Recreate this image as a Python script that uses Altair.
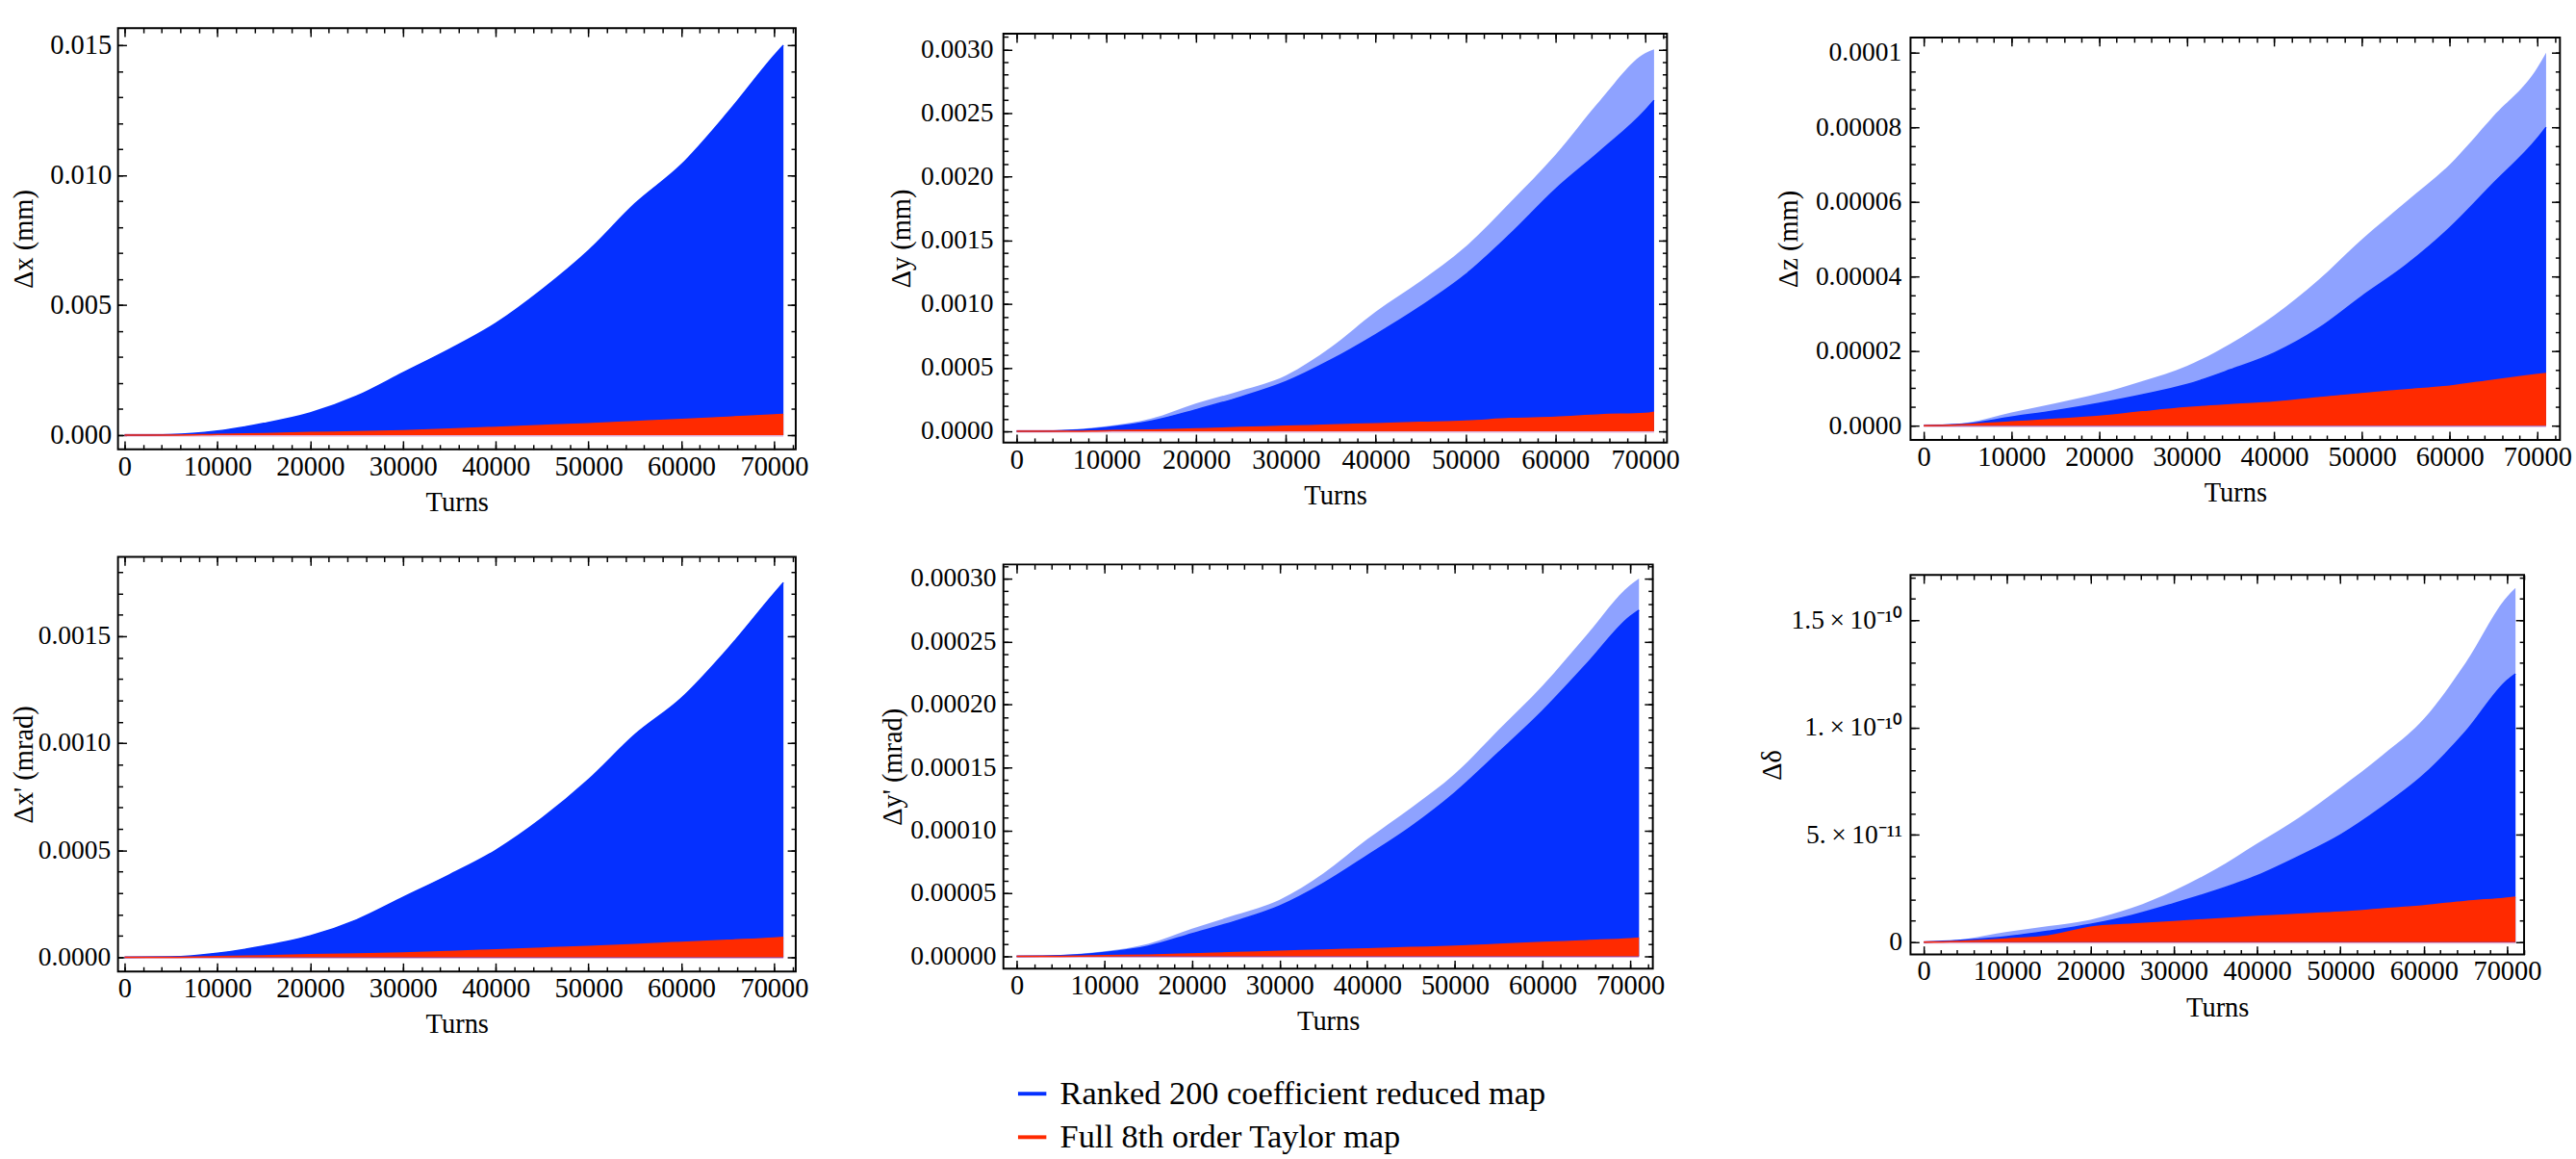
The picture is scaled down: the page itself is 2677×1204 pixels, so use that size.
import altair as alt
import pandas as pd

# ---------------- data ----------------
turns = [0, 5000, 10000, 15000, 20000, 25000, 30000, 35000, 40000, 45000,
         50000, 55000, 60000, 65000, 70000, 71000]

# Δx (mm)
dx_fringe = [0, 0.00002, 0.00016, 0.00045, 0.00085, 0.0015, 0.0024, 0.0033, 0.0043, 0.0056,
             0.0071, 0.0089, 0.0104, 0.0124, 0.0146, 0.0150]
dx_core = [0, 0.00002, 0.00016, 0.00045, 0.00085, 0.0015, 0.0024, 0.0033, 0.0043, 0.0056,
           0.0071, 0.0089, 0.0104, 0.0124, 0.0146, 0.0150]
dx_red = [0, 0, 0.00003, 0.00006, 0.0001, 0.00013, 0.00017, 0.00023, 0.0003, 0.00037,
          0.00044, 0.00052, 0.0006, 0.00069, 0.00078, 0.0008]

# Δy (mm)
dy_fringe = [0, 0.00001, 0.00004, 0.0001, 0.00022, 0.00032, 0.00044, 0.00066, 0.00094, 0.00118,
             0.00145, 0.0018, 0.00217, 0.0026, 0.00297, 0.0030]
dy_core = [0, 0.000005, 0.00003, 0.00008, 0.00017, 0.00027, 0.00039, 0.00056, 0.00076, 0.00098,
           0.00123, 0.00155, 0.0019, 0.0022, 0.00252, 0.0026]
dy_red = [0, 0, 0.000005, 0.00001, 0.00002, 0.00003, 0.00004, 0.00005, 0.00006, 0.00007,
          0.00008, 0.0001, 0.00011, 0.00013, 0.00014, 0.00015]

# Δz (mm)
dz_fringe = [0, 0.0000008, 0.0000035, 0.000006, 0.0000086, 0.000012, 0.000016, 0.000022, 0.0000296,
             0.000039, 0.00005, 0.00006, 0.00007, 0.000083, 0.000096, 0.0001]
dz_core = [0, 0.0000005, 0.0000023, 0.000004, 0.000006, 0.0000083, 0.000011, 0.000015, 0.0000195,
           0.000026, 0.0000347, 0.000043, 0.000053, 0.000065, 0.000077, 0.00008]
dz_red = [0, 0.0000003, 0.000001, 0.0000017, 0.0000025, 0.0000037, 0.0000048, 0.0000056, 0.0000063,
          0.0000075, 0.0000086, 0.0000096, 0.0000106, 0.0000122, 0.0000137, 0.000014]

# Δx' (mrad)
dxp_fringe = [0, 0.000002, 0.000019, 0.000053, 0.0001, 0.000175, 0.00028, 0.000385, 0.0005, 0.00065,
              0.00083, 0.00104, 0.00121, 0.00144, 0.0017, 0.00175]
dxp_core = [0, 0.000002, 0.000019, 0.000053, 0.0001, 0.000175, 0.00028, 0.000385, 0.0005, 0.00065,
            0.00083, 0.00104, 0.00121, 0.00144, 0.0017, 0.00175]
dxp_red = [0, 0, 0.000003, 0.000007, 0.000012, 0.000016, 0.00002, 0.000027, 0.000035, 0.000043,
           0.000051, 0.00006, 0.00007, 0.00008, 0.00009, 0.000093]

# Δy' (mrad)
dyp_fringe = [0, 0.000001, 0.000004, 0.00001, 0.000022, 0.000033, 0.000045, 0.000066, 0.000093,
              0.000118, 0.000145, 0.00018, 0.000215, 0.000255, 0.000295, 0.0003]
dyp_core = [0, 0.0000005, 0.000003, 0.000008, 0.000018, 0.000028, 0.00004, 0.000058, 0.00008,
            0.000103, 0.00013, 0.000162, 0.000195, 0.000232, 0.00027, 0.000275]
dyp_red = [0, 0, 0.0000005, 0.000001, 0.000002, 0.000003, 0.000004, 0.000005, 0.000006,
           0.000007, 0.000008, 0.0000095, 0.000011, 0.0000125, 0.000014, 0.0000145]

# Δδ
dd_fringe = [0, 1.5e-12, 4.8e-12, 7.5e-12, 1.05e-11, 1.6e-11, 2.4e-11, 3.4e-11, 4.6e-11, 5.8e-11,
             7.2e-11, 8.7e-11, 1.04e-10, 1.3e-10, 1.61e-10, 1.65e-10]
dd_core = [0, 1e-12, 2.6e-12, 5.2e-12, 8.3e-12, 1.25e-11, 1.8e-11, 2.4e-11, 3.1e-11, 4e-11,
           5e-11, 6.3e-11, 7.8e-11, 9.8e-11, 1.22e-10, 1.25e-10]
dd_red = [0, 5e-13, 1.5e-12, 3e-12, 7e-12, 8.4e-12, 9.6e-12, 1.08e-11, 1.2e-11, 1.3e-11,
          1.4e-11, 1.55e-11, 1.7e-11, 1.9e-11, 2.06e-11, 2.1e-11]

x_major = [0, 10000, 20000, 30000, 40000, 50000, 60000, 70000]
x_minor = [i * 2000 for i in range(37)]

LEG_BLUE = "Ranked 200 coefficient reduced map"
LEG_RED = "Full 8th order Taylor map"

# ---------------- styles ----------------
BLUE = "#0530FF"
RED = "#FF2A00"
PINK = "#DDB0D8"
FONT = "Liberation Serif, Times New Roman, serif"
MAJ = 9
MIN = 5


def tick_axis(orient, values, size, extra=0):
    return alt.Axis(orient=orient, values=values, tickSize=size, offset=-(size + extra),
                    domain=False, grid=False, labels=False, title=None,
                    tickColor="black", tickWidth=1.5)


def panel(fringe, core, red, cfg):
    n = len(turns)
    off = cfg["off"]
    df = pd.DataFrame({"turns": turns, "fringe": fringe, "core": core,
                       "red": red, "zero": [0] * n})
    edge = pd.DataFrame({"turns": turns + turns, "val": core + red,
                         "series": [LEG_BLUE] * n + [LEG_RED] * n})
    frame = pd.DataFrame({"x0": [cfg["xdom"][0]], "x1": [cfg["xdom"][1]],
                          "y0": [cfg["ydom"][0]], "y1": [cfg["ydom"][1]]})
    xs = alt.Scale(domain=cfg["xdom"], nice=False, zero=False)
    ys = alt.Scale(domain=cfg["ydom"], nice=False, zero=False, range=[cfg["h"], off])

    x_lab = alt.Axis(orient="bottom", values=x_major, format="d", tickSize=MAJ, offset=-MAJ,
                     domain=False, grid=False, tickColor="black", tickWidth=1.5,
                     labelFontSize=29, labelPadding=4, labelFlush=False, labelOverlap=False,
                     title="Turns", titleFontSize=29, titlePadding=0,
                     minExtent=51, maxExtent=51)
    ykw = dict(orient="left", values=cfg["ymaj"], tickSize=MAJ, offset=-MAJ,
               domain=False, grid=False, tickColor="black", tickWidth=1.5,
               labelFontSize=cfg["yls"], labelPadding=cfg["ylp"], labelFlush=False,
               labelOverlap=False, title=cfg["title"], titleFontSize=29, titlePadding=0,
               minExtent=cfg["yext"], maxExtent=cfg["yext"])
    if "yfmt" in cfg:
        ykw["format"] = cfg["yfmt"]
    else:
        ykw["labelExpr"] = cfg["yexpr"]
    y_lab = alt.Axis(**ykw)

    base = alt.Chart(df)
    pink = base.mark_line(color=PINK, strokeWidth=3).encode(
        x=alt.X("turns:Q", scale=xs, axis=x_lab),
        y=alt.Y("zero:Q", scale=ys, axis=y_lab))
    fr = base.mark_area(color=BLUE, opacity=0.45, interpolate="monotone").encode(
        x=alt.X("turns:Q", scale=xs, axis=tick_axis("top", x_major, MAJ, off)),
        y=alt.Y("fringe:Q", scale=ys, axis=tick_axis("right", cfg["ymaj"], MAJ)),
        y2=alt.Y2("zero:Q"))
    co = base.mark_area(color=BLUE, opacity=1, interpolate="monotone").encode(
        x=alt.X("turns:Q", scale=xs, axis=tick_axis("bottom", x_minor, MIN)),
        y=alt.Y("core:Q", scale=ys, axis=tick_axis("left", cfg["ymin"], MIN)),
        y2=alt.Y2("zero:Q"))
    rd = base.mark_area(color=RED, opacity=1, interpolate="monotone").encode(
        x=alt.X("turns:Q", scale=xs, axis=tick_axis("top", x_minor, MIN, off)),
        y=alt.Y("red:Q", scale=ys, axis=tick_axis("right", cfg["ymin"], MIN)),
        y2=alt.Y2("zero:Q"))
    ed = alt.Chart(edge).mark_line(strokeWidth=1.5, interpolate="monotone").encode(
        x=alt.X("turns:Q", scale=xs, axis=None),
        y=alt.Y("val:Q", scale=ys, axis=None),
        color=alt.Color("series:N",
                        scale=alt.Scale(domain=[LEG_BLUE, LEG_RED], range=[BLUE, RED]),
                        legend=alt.Legend(title=None, orient="none", legendX=951, legendY=1111,
                                          labelFont=FONT, labelFontSize=35, labelColor="black",
                                          symbolType="stroke", symbolStrokeWidth=4,
                                          symbolSize=900, labelOffset=12, rowPadding=10,
                                          labelLimit=1200, padding=0)))
    fb = alt.Chart(frame).mark_rect(fillOpacity=0, stroke="black", strokeWidth=2).encode(
        x=alt.X("x0:Q", scale=xs, axis=None), x2="x1:Q",
        y=alt.Y("y0:Q", scale=ys, axis=None), y2="y1:Q")
    return alt.layer(pink, fr, co, rd, ed, fb).resolve_axis(
        x="independent", y="independent").properties(width=cfg["w"], height=cfg["h"])


def spacer(w):
    return alt.Chart(pd.DataFrame({"s": [0]})).mark_point(opacity=0).encode(
        x=alt.X("s:Q", axis=None), y=alt.Y("s:Q", axis=None)).properties(width=w, height=1)


p1 = panel(dx_fringe, dx_core, dx_red, dict(
    w=718, h=446, off=0, xdom=[-712, 72330], ydom=[-0.000545, 0.015654],
    ymaj=[0, 0.005, 0.01, 0.015], ymin=[i * 0.001 for i in range(16)],
    yfmt=".3f", yls=29, ylp=7, yext=94, title="Δx (mm)"))
p2 = panel(dy_fringe, dy_core, dy_red, dict(
    w=703, h=439, off=6, xdom=[-1470, 72440], ydom=[-0.000089, 0.0031224],
    ymaj=[i * 0.0005 for i in range(7)], ymin=[i * 0.0001 for i in range(32)],
    yfmt=".4f", yls=28, ylp=11, yext=102, title="Δy (mm)"))
p3 = panel(dz_fringe, dz_core, dz_red, dict(
    w=688, h=436, off=10, xdom=[-1510, 72580], ydom=[-0.0000038, 0.00010405],
    ymaj=[0, 0.00002, 0.00004, 0.00006, 0.00008, 0.0001], ymin=[i * 0.000005 for i in range(21)],
    yexpr="datum.value < 0.000001 ? '0.0000' : (datum.value > 0.000099 ? '0.0001' : format(datum.value, '.5f'))",
    yls=28, ylp=10, yext=123, title="Δz (mm)"))
p4 = panel(dxp_fringe, dxp_core, dxp_red, dict(
    w=718, h=439, off=0, xdom=[-712, 72330], ydom=[-0.000066, 0.00187],
    ymaj=[0, 0.0005, 0.001, 0.0015], ymin=[i * 0.0001 for i in range(19)],
    yfmt=".4f", yls=28, ylp=8, yext=94, title="Δx' (mrad)"))
p5 = panel(dyp_fringe, dyp_core, dyp_red, dict(
    w=688, h=436, off=8, xdom=[-1510, 72580], ydom=[-0.00000975, 0.00031125],
    ymaj=[i * 0.00005 for i in range(7)], ymin=[i * 0.00001 for i in range(32)],
    yfmt=".5f", yls=28, ylp=8, yext=111, title="Δy' (mrad)"))
p6 = panel(dd_fringe, dd_core, dd_red, dict(
    w=650, h=421, off=19, xdom=[-1585, 72030], ydom=[-5.7e-12, 1.711e-10],
    ymaj=[0, 5e-11, 1e-10, 1.5e-10], ymin=[i * 1e-11 for i in range(18)],
    yexpr="datum.value < 1e-12 ? '0' : (datum.value < 7e-11 ? '5.\u2009×\u200910⁻¹¹' : (datum.value < 1.2e-10 ? '1.\u2009×\u200910⁻¹⁰' : '1.5\u2009×\u200910⁻¹⁰'))",
    yls=28, ylp=9, yext=141, title="Δδ"))

chart = alt.concat(
    p1, spacer(205), p2, spacer(222), p3,
    p4, spacer(220), p5, spacer(258), p6,
    columns=5, spacing={"row": 114, "column": 0}, bounds="flush", align="none",
).properties(
    padding={"left": 11, "top": 15, "right": 4, "bottom": 2},
    background="white",
).configure_view(strokeWidth=0).configure_axis(
    labelFont=FONT, titleFont=FONT, labelColor="black", titleColor="black",
    titleFontWeight="normal")

chart.save("out.html", embed_options={"renderer": "svg", "actions": False})
